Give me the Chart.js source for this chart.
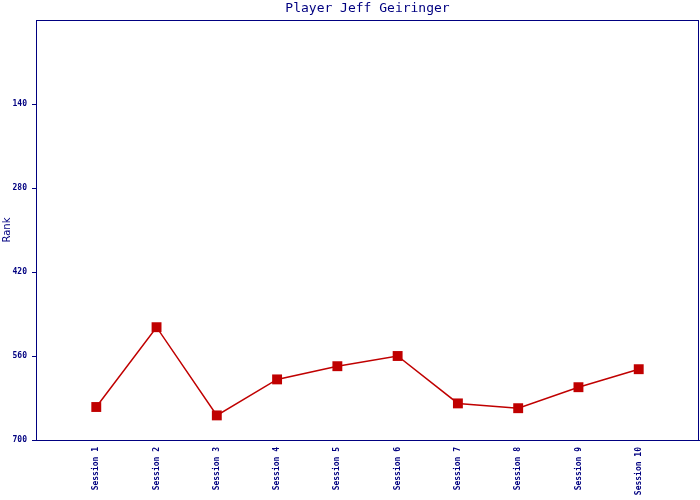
<!DOCTYPE html>
<html>
<head>
<meta charset="utf-8">
<script src="https://cdn.jsdelivr.net/npm/chart.js@4/dist/chart.umd.min.js"></script>
<style>
  html, body { margin: 0; padding: 0; background: #ffffff; }
  #wrap { width: 700px; height: 500px; }
</style>
</head>
<body>
<div id="wrap"><canvas id="rankChart" width="700" height="500"></canvas></div>
<script>
// Player rank per session (lower number = better, axis reversed)
const sessions = ["Session 1", "Session 2", "Session 3", "Session 4", "Session 5",
                  "Session 6", "Session 7", "Session 8", "Session 9", "Session 10"];
const ranks = [645, 512, 659, 599, 577, 560, 639, 647, 612, 582];
const rankTicks = [140, 280, 420, 560, 700];
const chartTitle = "Player Jeff Geiringer";

const navy = "#000080";
const red = "#c00000";

// frame around the plot area + title centred over it
const frame = {
    id: "frame",
    afterDraw(chart) {
        const a = chart.chartArea;
        const ctx = chart.ctx;
        ctx.save();
        ctx.strokeStyle = navy;
        ctx.lineWidth = 1;
        ctx.strokeRect(a.left + 0.5, a.top + 0.5, a.right - a.left - 1, a.bottom - a.top);
        ctx.fillStyle = navy;
        ctx.font = "13px 'DejaVu Sans Mono'";
        ctx.textAlign = "center";
        ctx.textBaseline = "middle";
        ctx.fillText(chartTitle, (a.left + a.right) / 2, 9);
        ctx.restore();
    }
};

const ctx = document.getElementById("rankChart");
new Chart(ctx, {
    type: "line",
    data: {
        datasets: [{
            data: ranks.map((r, i) => ({ x: i + 1, y: r })),
            borderColor: red,
            backgroundColor: red,
            borderWidth: 1.5,
            pointStyle: "rect",
            pointRadius: 7,
            pointHoverRadius: 7,
            pointBorderWidth: 0,
            tension: 0
        }]
    },
    options: {
        responsive: false,
        animation: false,
        layout: { autoPadding: false, padding: { right: 1, left: 0, top: 20, bottom: 0 } },
        plugins: {
            legend: { display: false },
            tooltip: { enabled: false },
            title: { display: false }
        },
        scales: {
            x: {
                type: "linear",
                min: 0,
                max: sessions.length + 1,
                afterBuildTicks: s => { s.ticks = sessions.map((_, i) => ({ value: i + 1 })); },
                afterFit: s => { s.height = 60; s.paddingLeft = 0; s.paddingRight = 0; },
                grid: { display: false },
                border: { display: true, color: navy },
                ticks: {
                    autoSkip: false,
                    maxRotation: 90,
                    minRotation: 90,
                    padding: -1,
                    color: navy,
                    font: { family: "DejaVu Sans Mono", size: 8, weight: "bold" },
                    callback: v => sessions[v - 1] || ""
                }
            },
            y: {
                reverse: true,
                min: 0,
                max: 700,
                afterBuildTicks: s => { s.ticks = rankTicks.map(v => ({ value: v })); },
                afterFit: s => { s.width = 36; s.paddingTop = 0; s.paddingBottom = 0; },
                grid: { drawOnChartArea: false, tickLength: 4, color: navy },
                border: { display: true, color: navy },
                title: {
                    display: true,
                    text: "Rank",
                    color: navy,
                    font: { family: "DejaVu Sans", size: 10 },
                    padding: { top: 1, bottom: 0 }
                },
                ticks: {
                    padding: 5,
                    color: navy,
                    font: { family: "DejaVu Sans Mono", size: 8, weight: "bold" }
                }
            }
        }
    },
    plugins: [frame]
});
</script>
</body>
</html>
